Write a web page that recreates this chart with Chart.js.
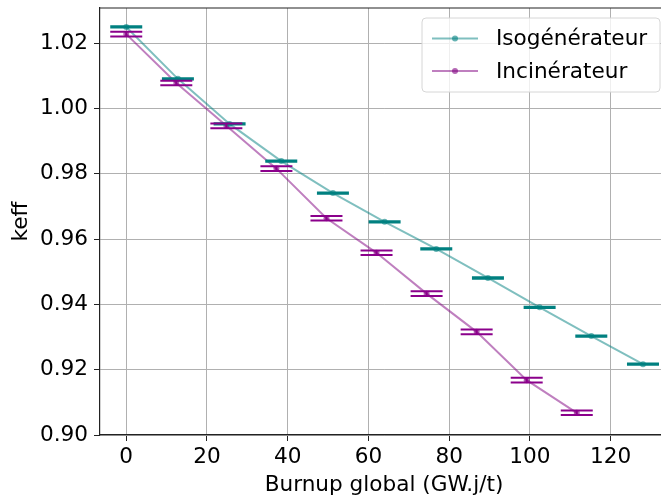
<!DOCTYPE html>
<html>
<head>
<meta charset="utf-8">
<script src="https://cdn.jsdelivr.net/npm/chart.js@4.4.1/dist/chart.umd.min.js"></script>
<style>
  html, body { margin: 0; padding: 0; background: #fff; overflow: hidden; }
  #wrap { width: 661px; height: 495px; overflow: hidden; position: relative; }
  #chart { position: absolute; left: 0; top: 0; }
</style>
</head>
<body>
<div id="wrap"><canvas id="chart" width="672" height="495"></canvas></div>
<script>
// Isogénérateur
const isoBurnup = [0, 12.8, 25.6, 38.4, 51.2, 64.0, 76.8, 89.6, 102.4, 115.2, 128.0];
const isoKeff = [1.0250, 1.0091, 0.9953, 0.9839, 0.9741, 0.9653, 0.9570, 0.9481, 0.9391, 0.9303, 0.9217];
const isoErr = [0.0002, 0.0002, 0.0002, 0.0002, 0.0002, 0.0002, 0.0002, 0.0002, 0.0002, 0.0002, 0.0002];

// Incinérateur
const incBurnup = [0, 12.4, 24.8, 37.2, 49.6, 62.0, 74.4, 86.8, 99.2, 111.6];
const incKeff = [1.0228, 1.0078, 0.9947, 0.9816, 0.9664, 0.9558, 0.9433, 0.9316, 0.9168, 0.9068];
const incErr = [0.0007, 0.0007, 0.0007, 0.0007, 0.0007, 0.0007, 0.0007, 0.0007, 0.0007, 0.0007];

const seriesNames = ['Isogénérateur', 'Incinérateur'];
const xTicks = [0, 20, 40, 60, 80, 100, 120];
const yTicks = [0.90, 0.92, 0.94, 0.96, 0.98, 1.00, 1.02];

const FONT = 'DejaVu Sans';
const FSIZE = 21.6;

function toPoints(xs, ys) {
  return xs.map((x, i) => ({ x: x, y: ys[i] }));
}

// error bars drawn with the chart scales
const errorBars = {
  id: 'errorBars',
  afterDatasetsDraw(chart) {
    const ctx = chart.ctx;
    const xs = chart.scales.x;
    const ys = chart.scales.y;
    chart.data.datasets.forEach(ds => {
      const errs = ds.errors || [];
      ctx.save();
      ctx.strokeStyle = ds.barColor;
      ctx.lineWidth = 2;
      ds.data.forEach((p, i) => {
        const px = xs.getPixelForValue(p.x);
        const top = ys.getPixelForValue(p.y + errs[i]);
        const bot = ys.getPixelForValue(p.y - errs[i]);
        const cap = 16;
        ctx.beginPath();
        ctx.moveTo(px, top); ctx.lineTo(px, bot);
        ctx.moveTo(px - cap, top); ctx.lineTo(px + cap, top);
        ctx.moveTo(px - cap, bot); ctx.lineTo(px + cap, bot);
        ctx.stroke();
      });
      ctx.restore();
    });
  }
};

// top spine + legend box (matplotlib style)
const frameLegend = {
  id: 'frameLegend',
  afterDraw(chart) {
    const ctx = chart.ctx;
    const a = chart.chartArea;
    ctx.save();
    ctx.strokeStyle = '#222';
    ctx.lineWidth = 1.2;
    ctx.beginPath();
    ctx.moveTo(a.left, a.top); ctx.lineTo(a.right, a.top);
    ctx.stroke();

    // legend
    const bx = 422, by = 18, bw = 238, bh = 74, r = 4;
    ctx.beginPath();
    ctx.moveTo(bx + r, by);
    ctx.arcTo(bx + bw, by, bx + bw, by + bh, r);
    ctx.arcTo(bx + bw, by + bh, bx, by + bh, r);
    ctx.arcTo(bx, by + bh, bx, by, r);
    ctx.arcTo(bx, by, bx + bw, by, r);
    ctx.closePath();
    ctx.fillStyle = 'rgba(255,255,255,0.8)';
    ctx.fill();
    ctx.strokeStyle = '#d6d6d6';
    ctx.lineWidth = 1;
    ctx.stroke();

    const rows = [38.5, 71];
    chart.data.datasets.forEach((ds, i) => {
      const y = rows[i];
      ctx.strokeStyle = ds.borderColor;
      ctx.lineWidth = 2;
      ctx.beginPath();
      ctx.moveTo(432, y); ctx.lineTo(478, y);
      ctx.stroke();
      ctx.fillStyle = ds.pointBackgroundColor;
      ctx.beginPath();
      ctx.arc(455, y, 3, 0, Math.PI * 2);
      ctx.fill();
      ctx.fillStyle = '#000';
      ctx.font = FSIZE + 'px "' + FONT + '"';
      ctx.textBaseline = 'middle';
      ctx.fillText(ds.label, 496, y + 1);
    });
    ctx.restore();
  }
};

new Chart(document.getElementById('chart'), {
  type: 'scatter',
  data: {
    datasets: [
      {
        label: seriesNames[0],
        data: toPoints(isoBurnup, isoKeff),
        errors: isoErr,
        showLine: true,
        borderColor: 'rgba(0,128,128,0.5)',
        backgroundColor: 'rgba(0,128,128,0.5)',
        pointBackgroundColor: 'rgba(0,128,128,0.6)',
        pointBorderWidth: 0,
        pointRadius: 3,
        borderWidth: 2,
        barColor: '#008080'
      },
      {
        label: seriesNames[1],
        data: toPoints(incBurnup, incKeff),
        errors: incErr,
        showLine: true,
        borderColor: 'rgba(128,0,128,0.5)',
        backgroundColor: 'rgba(128,0,128,0.5)',
        pointBackgroundColor: 'rgba(128,0,128,0.6)',
        pointBorderWidth: 0,
        pointRadius: 3,
        borderWidth: 2,
        barColor: '#8b008b'
      }
    ]
  },
  options: {
    responsive: false,
    animation: false,
    layout: { padding: { top: 8, right: 2, left: 0, bottom: 0 } },
    plugins: {
      legend: { display: false },
      tooltip: { enabled: false }
    },
    scales: {
      x: {
        type: 'linear',
        min: -6.5,
        max: 134.2,
        afterFit: s => { s.height = 60; s.paddingLeft = 0; s.paddingRight = 0; },
        afterBuildTicks: s => { s.ticks = xTicks.map(v => ({ value: v })); },
        ticks: {
          font: { family: FONT, size: FSIZE },
          color: '#000',
          padding: 3,
          maxRotation: 0,
          callback: v => String(v)
        },
        grid: { color: '#b0b0b0', lineWidth: 1, tickColor: '#222', tickLength: 6 },
        border: { color: '#222', width: 1.2 },
        title: {
          display: true,
          text: 'Burnup global (GW.j/t)',
          font: { family: FONT, size: FSIZE },
          color: '#000',
          padding: { top: 0, bottom: -3 }
        }
      },
      y: {
        type: 'linear',
        min: 0.9,
        max: 1.0308,
        afterFit: s => { s.width = 100; s.paddingTop = 0; s.paddingBottom = 0; },
        afterBuildTicks: s => { s.ticks = yTicks.map(v => ({ value: v })); },
        ticks: {
          font: { family: FONT, size: FSIZE },
          color: '#000',
          padding: 6,
          callback: v => v.toFixed(2)
        },
        grid: { color: '#b0b0b0', lineWidth: 1, tickColor: '#222', tickLength: 6 },
        border: { color: '#222', width: 1.2 },
        title: {
          display: true,
          text: 'keff',
          font: { family: FONT, size: FSIZE },
          color: '#000',
          padding: { top: 8, bottom: 0 }
        }
      }
    }
  },
  plugins: [errorBars, frameLegend]
});
</script>
</body>
</html>
